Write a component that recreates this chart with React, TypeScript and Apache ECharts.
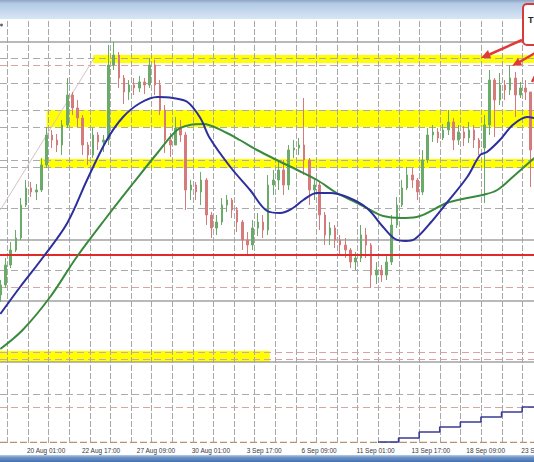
import React, { useEffect, useRef } from "react";
import * as echarts from "echarts";

const W = 534;
const H = 462;

// H1 bar index on the x axis; one drawn candle per 6 hourly bars
const candleStart = 16;
const candleStep = 6;
// [open, close, low, high]
const candles: number[][] = [
  [1.0965, 1.0975, 1.0958, 1.098], [1.0975, 1.0995, 1.0972, 1.1002], [1.0995, 1.101, 1.0992, 1.1018],
  [1.101, 1.1022, 1.1008, 1.103], [1.1022, 1.1055, 1.102, 1.1062], [1.1055, 1.1072, 1.1053, 1.108],
  [1.1072, 1.1068, 1.1063, 1.1078], [1.1068, 1.107, 1.106, 1.1076], [1.107, 1.1095, 1.1068, 1.1102],
  [1.1095, 1.1125, 1.1092, 1.1133], [1.1125, 1.112, 1.1112, 1.113], [1.112, 1.1115, 1.1108, 1.1126],
  [1.1115, 1.1135, 1.1105, 1.114], [1.1135, 1.1165, 1.1132, 1.1182], [1.1165, 1.1152, 1.1145, 1.1168],
  [1.1152, 1.1142, 1.1133, 1.116], [1.1142, 1.1115, 1.1105, 1.1145], [1.1115, 1.1105, 1.1095, 1.1118],
  [1.1105, 1.1125, 1.1102, 1.1132], [1.1125, 1.1118, 1.111, 1.1128], [1.1118, 1.112, 1.1108, 1.1125],
  [1.112, 1.1195, 1.1115, 1.1215], [1.1195, 1.1205, 1.119, 1.1218], [1.1205, 1.1182, 1.1172, 1.1208],
  [1.1182, 1.1168, 1.1156, 1.1185], [1.1168, 1.1175, 1.116, 1.118], [1.1175, 1.1172, 1.1165, 1.1182],
  [1.1172, 1.1178, 1.1168, 1.1184], [1.1178, 1.1175, 1.1166, 1.1182], [1.1175, 1.1195, 1.1172, 1.1202],
  [1.1195, 1.1175, 1.1165, 1.12], [1.1175, 1.115, 1.1145, 1.118], [1.115, 1.112, 1.1107, 1.1155],
  [1.112, 1.1115, 1.1103, 1.1127], [1.1115, 1.1132, 1.1115, 1.1143], [1.1132, 1.1125, 1.1118, 1.114],
  [1.1125, 1.107, 1.105, 1.1128], [1.107, 1.1075, 1.106, 1.108], [1.1075, 1.1068, 1.106, 1.1078],
  [1.1068, 1.108, 1.1055, 1.1088], [1.108, 1.1045, 1.1035, 1.1082], [1.1045, 1.1032, 1.1022, 1.1048],
  [1.1032, 1.1038, 1.1025, 1.1045], [1.1038, 1.1055, 1.1035, 1.1062], [1.1055, 1.106, 1.1048, 1.1065],
  [1.106, 1.105, 1.1042, 1.1062], [1.105, 1.1038, 1.1028, 1.1053], [1.1038, 1.102, 1.101, 1.104],
  [1.102, 1.1015, 1.1005, 1.1028], [1.1015, 1.1032, 1.101, 1.104], [1.1032, 1.1038, 1.1024, 1.1047],
  [1.1038, 1.103, 1.1022, 1.1045], [1.103, 1.1075, 1.1025, 1.1085], [1.1075, 1.108, 1.1065, 1.109],
  [1.108, 1.109, 1.107, 1.1098], [1.109, 1.1075, 1.1065, 1.11], [1.1075, 1.111, 1.107, 1.1115],
  [1.111, 1.1112, 1.1102, 1.112], [1.1112, 1.1115, 1.1105, 1.1122], [1.1115, 1.11, 1.1085, 1.1162],
  [1.11, 1.107, 1.1055, 1.1102], [1.107, 1.1075, 1.106, 1.1082], [1.1075, 1.1045, 1.103, 1.1078],
  [1.1045, 1.1025, 1.1015, 1.1048], [1.1025, 1.1032, 1.1015, 1.1038], [1.1032, 1.102, 1.1012, 1.1035],
  [1.102, 1.1015, 1.1005, 1.1025], [1.1015, 1.101, 1.1002, 1.1022], [1.101, 1.0998, 1.0992, 1.1012],
  [1.0998, 1.1002, 1.099, 1.1008], [1.1002, 1.1025, 1.0998, 1.1035], [1.1025, 1.1015, 1.1002, 1.1032],
  [1.1015, 1.0985, 1.0972, 1.1017], [1.0985, 1.099, 1.0976, 1.0998], [1.099, 1.0985, 1.0978, 1.0995],
  [1.0985, 1.0998, 1.098, 1.1005], [1.0998, 1.1035, 1.0995, 1.1045], [1.1035, 1.1055, 1.1032, 1.1063],
  [1.1055, 1.1072, 1.1053, 1.108], [1.1072, 1.1085, 1.107, 1.1093], [1.1085, 1.108, 1.1072, 1.1092],
  [1.108, 1.1068, 1.106, 1.1082], [1.1068, 1.11, 1.1065, 1.111], [1.11, 1.1125, 1.1097, 1.1132],
  [1.1125, 1.1128, 1.1118, 1.1135], [1.1128, 1.1122, 1.1117, 1.1132], [1.1122, 1.113, 1.112, 1.1136],
  [1.113, 1.1138, 1.1125, 1.115], [1.1138, 1.112, 1.111, 1.1142], [1.112, 1.1128, 1.1115, 1.1135],
  [1.1128, 1.1122, 1.1114, 1.1134], [1.1122, 1.113, 1.1117, 1.1138], [1.113, 1.112, 1.1112, 1.1135],
  [1.112, 1.1112, 1.1105, 1.1122], [1.1112, 1.1135, 1.1057, 1.1145], [1.1135, 1.118, 1.1125, 1.119],
  [1.118, 1.116, 1.1123, 1.1182], [1.116, 1.1175, 1.1155, 1.1187], [1.1175, 1.117, 1.116, 1.118],
  [1.117, 1.1182, 1.1165, 1.1195], [1.1182, 1.1165, 1.1143, 1.1188], [1.1165, 1.1172, 1.1162, 1.1178],
  [1.1172, 1.1168, 1.116, 1.118], [1.1168, 1.111, 1.1073, 1.1165],
];

// 100-period moving average (blue)
const blueMaX = [16, 39, 66, 94, 117, 140, 159, 179, 199, 217, 234, 249, 260, 284, 307, 327, 342, 357, 369, 385, 400, 420, 443, 462, 476, 488, 499, 517, 536, 560, 575, 583, 598, 613, 630, 638];
const blueMa = [1.0946, 1.0973, 1.1003, 1.1037, 1.108, 1.112, 1.1143, 1.1157, 1.1163, 1.1162, 1.1158, 1.1142, 1.1122, 1.1093, 1.107, 1.1049, 1.1047, 1.1052, 1.106, 1.1067, 1.1067, 1.1063, 1.1052, 1.1033, 1.1021, 1.1019, 1.1021, 1.1037, 1.1057, 1.1083, 1.1105, 1.1108, 1.112, 1.1135, 1.1143, 1.1142];

// 200-period moving average (green)
const greenMaX = [16, 42, 74, 105, 140, 171, 199, 222, 237, 252, 280, 295, 315, 338, 362, 385, 408, 432, 447, 462, 482, 501, 536, 560, 578, 595, 613, 638];
const greenMa = [1.0911, 1.093, 1.0963, 1.1003, 1.1043, 1.1077, 1.1107, 1.113, 1.1135, 1.1136, 1.1127, 1.112, 1.111, 1.11, 1.109, 1.108, 1.1067, 1.1057, 1.105, 1.1044, 1.1042, 1.1043, 1.1057, 1.1062, 1.1065, 1.107, 1.1083, 1.1102];

// stepped indicator line (bottom right)
const stepX = [456, 480, 504, 528, 552, 576, 600, 624, 638];
const stepVals = [1.0818, 1.0822, 1.0828, 1.0833, 1.0838, 1.0843, 1.0848, 1.0853, 1.0853];

// time axis labels
const timeLabelX = [47, 111, 175, 239, 303, 367, 431, 495, 559, 623];
const timeLabels = ["20 Aug 01:00", "22 Aug 17:00", "27 Aug 09:00", "30 Aug 01:00", "3 Sep 17:00", "6 Sep 09:00", "11 Sep 01:00", "13 Sep 17:00", "18 Sep 09:00", "23 Sep 01:00"];

// day separators (vertical grid)
const dayLines = [24, 48, 72, 96, 120, 144, 168, 192, 216, 240, 264, 288, 312, 336, 360, 384, 408, 432, 456, 480, 504, 528, 552, 576, 600, 624];

// price levels
const redLevel = [1.1005];
const solidLevels = [1.1218, 1.102, 1.0959, 1.0898];
const dashedLevels = [1.1202, 1.1177, 1.115, 1.1133, 1.11, 1.1093, 1.1052, 1.099, 1.0866];
const pinkLevels = [1.1195, 1.0973, 1.0908, 1.0901, 1.0853];
const bottomLevel = [1.0818];

// yellow zones
const zoneFrom = [124, 70, 62, 0];
const zoneTo = [640, 640, 640, 330];
const zoneHigh = [1.1205, 1.115, 1.1101, 1.0909];
const zoneLow = [1.1197, 1.1133, 1.1092, 1.0898];

// faint trend line
const trendX = [16, 126];
const trendY = [1.105, 1.1203];

const X_MIN = 15.6;
const X_MAX = 637.8;
const Y_MIN = 1.0817;
const Y_MAX = 1.124;

export default function App() {
  const ref = useRef<HTMLDivElement>(null);

  useEffect(() => {
    if (!ref.current) return;
    const chart = echarts.init(ref.current, null, { renderer: "svg" });

    const candleData = candles.map((c, k) => [candleStart + candleStep * k, c[0], c[1], c[2], c[3]]);
    const pair = (xs: number[], ys: number[]) => xs.map((x, i) => [x, ys[i]]);
    const crisp = (v: number) => Math.round(v) + 0.5;
    const Y_MID = (Y_MIN + Y_MAX) / 2;

    const hLines = (vals: number[], color: string, width: number, dash: number[] | null, z: number) => ({
      type: "custom",
      silent: true,
      z,
      clip: true,
      data: vals.map((v) => [X_MIN, v]),
      encode: { x: 0, y: 1 },
      renderItem: (_p: any, api: any) => {
        const v = api.value(1);
        const a = api.coord([X_MIN, v]);
        const b = api.coord([X_MAX, v]);
        const y = width < 1.5 ? crisp(a[1]) : a[1];
        return {
          type: "line",
          shape: { x1: a[0], y1: y, x2: b[0], y2: y },
          style: { stroke: color, lineWidth: width, lineDash: dash || undefined, fill: null },
        };
      },
    });

    const option: any = {
      animation: false,
      backgroundColor: "#ffffff",
      textStyle: { fontFamily: "Liberation Sans" },
      grid: { left: 0, right: 0, top: 20, bottom: 19, containLabel: false, outerBoundsMode: "none" },
      xAxis: {
        type: "value",
        min: X_MIN,
        max: X_MAX,
        axisLine: { show: false },
        axisTick: { show: false },
        splitLine: { show: false },
        axisLabel: {
          customValues: timeLabelX,
          align: "left",
          margin: 4,
          fontSize: 6.5,
          color: "#3a3a3a",
          fontFamily: "Liberation Sans",
          hideOverlap: false,
          formatter: (v: number) => {
            const i = timeLabelX.indexOf(v);
            return i >= 0 ? timeLabels[i] : "";
          },
        },
      },
      yAxis: {
        type: "value",
        min: Y_MIN,
        max: Y_MAX,
        show: false,
        splitLine: { show: false },
      },
      series: [
        {
          type: "custom",
          silent: true,
          z: 1,
          clip: true,
          data: dayLines.map((d) => [d, Y_MID]),
          encode: { x: 0, y: 1 },
          renderItem: (_p: any, api: any) => {
            const x = api.value(0);
            const a = api.coord([x, Y_MIN]);
            const b = api.coord([x, Y_MAX]);
            const cx = crisp(a[0]);
            return {
              type: "line",
              shape: { x1: cx, y1: a[1], x2: cx, y2: b[1] },
              style: { stroke: "#a8a8a8", lineWidth: 1, lineDash: [6, 2], fill: null },
            };
          },
        },
        {
          type: "line",
          data: [],
          silent: true,
          z: 2,
          markArea: {
            silent: true,
            itemStyle: { color: "#ffff00", opacity: 1 },
            data: zoneFrom.map((f, i) => [
              { xAxis: f, yAxis: zoneHigh[i] },
              { xAxis: zoneTo[i], yAxis: zoneLow[i] },
            ]),
          },
        },
        hLines(solidLevels, "#a2a2a2", 1.6, null, 3),
        hLines(dashedLevels, "#ababab", 1, [7, 4], 3),
        hLines(pinkLevels, "#d9a4a4", 1, [7, 4], 3),
        hLines(bottomLevel, "#b39573", 1.4, [7, 3], 3),
        {
          type: "line",
          data: pair(trendX, trendY),
          symbol: "none",
          silent: true,
          z: 3,
          lineStyle: { color: "#d6c2c2", width: 1 },
        },
        {
          type: "candlestick",
          data: candleData,
          encode: { x: 0, y: [1, 2, 3, 4] },
          barWidth: 2,
          silent: true,
          z: 4,
          itemStyle: {
            color: "#6aab6a",
            color0: "#d67b7b",
            borderColor: "#6aab6a",
            borderColor0: "#d67b7b",
            borderWidth: 1,
          },
        },
        hLines(redLevel, "#e02a2a", 2, null, 5),
        {
          type: "line",
          data: pair(greenMaX, greenMa),
          smooth: 0.35,
          symbol: "none",
          silent: true,
          z: 6,
          lineStyle: { color: "#3a8a3e", width: 2 },
        },
        {
          type: "line",
          data: pair(blueMaX, blueMa),
          smooth: 0.35,
          symbol: "none",
          silent: true,
          z: 7,
          lineStyle: { color: "#2d2f9c", width: 2 },
        },
        {
          type: "line",
          data: pair(stepX, stepVals),
          step: "end",
          symbol: "none",
          silent: true,
          z: 7,
          lineStyle: { color: "#3b3b96", width: 1.6 },
        },
      ],
      graphic: [
        {
          type: "rect",
          z: 100,
          shape: { x: 0, y: 0, width: W, height: 19 },
          style: {
            fill: new echarts.graphic.LinearGradient(0, 0, 0, 1, [
              { offset: 0, color: "#8fa3c0" },
              { offset: 0.18, color: "#b2c9e6" },
              { offset: 1, color: "#d9e6f4" },
            ]),
          },
        },
        {
          type: "rect",
          z: 100,
          shape: { x: 0, y: 455, width: W, height: 7 },
          style: {
            fill: new echarts.graphic.LinearGradient(0, 0, 0, 1, [
              { offset: 0, color: "#b9cde8" },
              { offset: 0.35, color: "#6d94c8" },
              { offset: 1, color: "#4470ad" },
            ]),
          },
        },
        { type: "circle", z: 100, shape: { cx: 1.5, cy: 25, r: 1.5 }, style: { fill: "#666" } },
        {
          type: "rect",
          z: 110,
          shape: { x: 523, y: 4, width: 30, height: 41, r: 4 },
          style: { fill: "#ffffff", stroke: "#d83a3a", lineWidth: 2 },
        },
        {
          type: "text",
          z: 111,
          x: 528,
          y: 15,
          style: { text: "T", fill: "#222", font: "bold 9px 'Liberation Sans'" },
        },
        {
          type: "line",
          z: 110,
          shape: { x1: 522, y1: 40, x2: 486, y2: 56 },
          style: { stroke: "#e03a3a", lineWidth: 2.5 },
        },
        {
          type: "polygon",
          z: 110,
          shape: { points: [[481, 58], [491, 58], [488, 50]] },
          style: { fill: "#e03a3a" },
        },
        {
          type: "line",
          z: 110,
          shape: { x1: 535, y1: 53, x2: 516, y2: 64 },
          style: { stroke: "#e03a3a", lineWidth: 2.5 },
        },
        {
          type: "polygon",
          z: 110,
          shape: { points: [[512, 66], [522, 65], [518, 58]] },
          style: { fill: "#e03a3a" },
        },
        {
          type: "line",
          z: 110,
          shape: { x1: 538, y1: 70, x2: 532, y2: 82 },
          style: { stroke: "#e03a3a", lineWidth: 2.5 },
        },
      ],
    };

    chart.setOption(option);
    return () => chart.dispose();
  }, []);

  return (
    <div
      ref={ref}
      style={{ position: "fixed", left: 0, top: 0, width: W, height: H, background: "#fff" }}
    />
  );
}
